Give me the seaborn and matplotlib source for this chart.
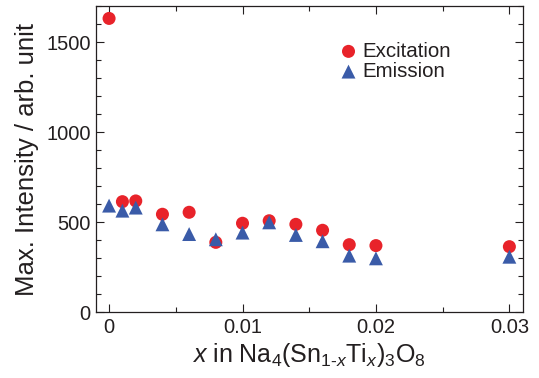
import numpy as np
import pandas as pd
import matplotlib.pyplot as plt
import seaborn as sns
from matplotlib.ticker import MultipleLocator

sns.set_style("ticks")
plt.rcParams['font.family'] = ['Liberation Sans', 'DejaVu Sans']
plt.rcParams['mathtext.fontset'] = 'custom'
plt.rcParams['mathtext.rm'] = 'Liberation Sans'
plt.rcParams['mathtext.it'] = 'Liberation Sans:italic'

x_vals = [0, 0.001, 0.002, 0.004, 0.006, 0.008, 0.010, 0.012, 0.014, 0.016, 0.018, 0.020, 0.030]
excitation = [1631, 613, 617, 543, 554, 387, 493, 507, 487, 454, 374, 369, 363]
emission = [591, 563, 580, 487, 433, 404, 441, 498, 428, 393, 313, 298, 307]
x_ticks = [0, 0.01, 0.02, 0.03]
x_tick_labels = ['0', '0.01', '0.02', '0.03']
y_ticks = [0, 500, 1000, 1500]

df = pd.DataFrame({'x': x_vals, 'Excitation': excitation, 'Emission': emission})

fig = plt.figure(figsize=(5.39, 3.78), dpi=100)
ax = fig.add_axes([0.1776, 0.1746, 0.7922, 0.8095])

sns.scatterplot(data=df, x='x', y='Excitation', ax=ax, marker='o', s=88,
                color='#e8232a', edgecolor='none', label='Excitation', zorder=3)
sns.scatterplot(data=df, x='x', y='Emission', ax=ax, marker='^', s=100,
                color='#3a5ba8', edgecolor='none', label='Emission', zorder=4)

ax.set_xlim(-0.001, 0.031)
ax.set_ylim(0, 1700)
ax.set_xticks(x_ticks)
ax.set_xticklabels(x_tick_labels)
ax.set_yticks(y_ticks)
ax.xaxis.set_minor_locator(MultipleLocator(0.005))
ax.yaxis.set_minor_locator(MultipleLocator(100))
ax.tick_params(which='both', direction='in', top=True, right=True, width=0.8, colors='#231f20',
               labelsize=14.5)
ax.tick_params(which='major', length=6)
ax.tick_params(which='minor', length=3.5)
ax.tick_params(axis='x', which='major', pad=4)
for s in ax.spines.values():
    s.set_linewidth(0.9)
    s.set_color('#231f20')

ax.set_xlabel(r'$x$ in Na$_4$(Sn$_{1\text{-}x}$Ti$_x$)$_3$O$_8$', fontsize=18, color='#231f20', labelpad=3)
ax.set_ylabel('Max. Intensity / arb. unit', fontsize=18.5, color='#231f20', labelpad=5)

# legend without frame, handles tight against the labels
leg = ax.legend(loc='upper left', bbox_to_anchor=(0.54, 0.91), frameon=False, fontsize=14.8,
                handletextpad=0.0, labelspacing=0.06, borderaxespad=0, handlelength=1.36)
for t in leg.get_texts():
    t.set_color('#231f20')

fig.savefig('out.png', dpi=100)
